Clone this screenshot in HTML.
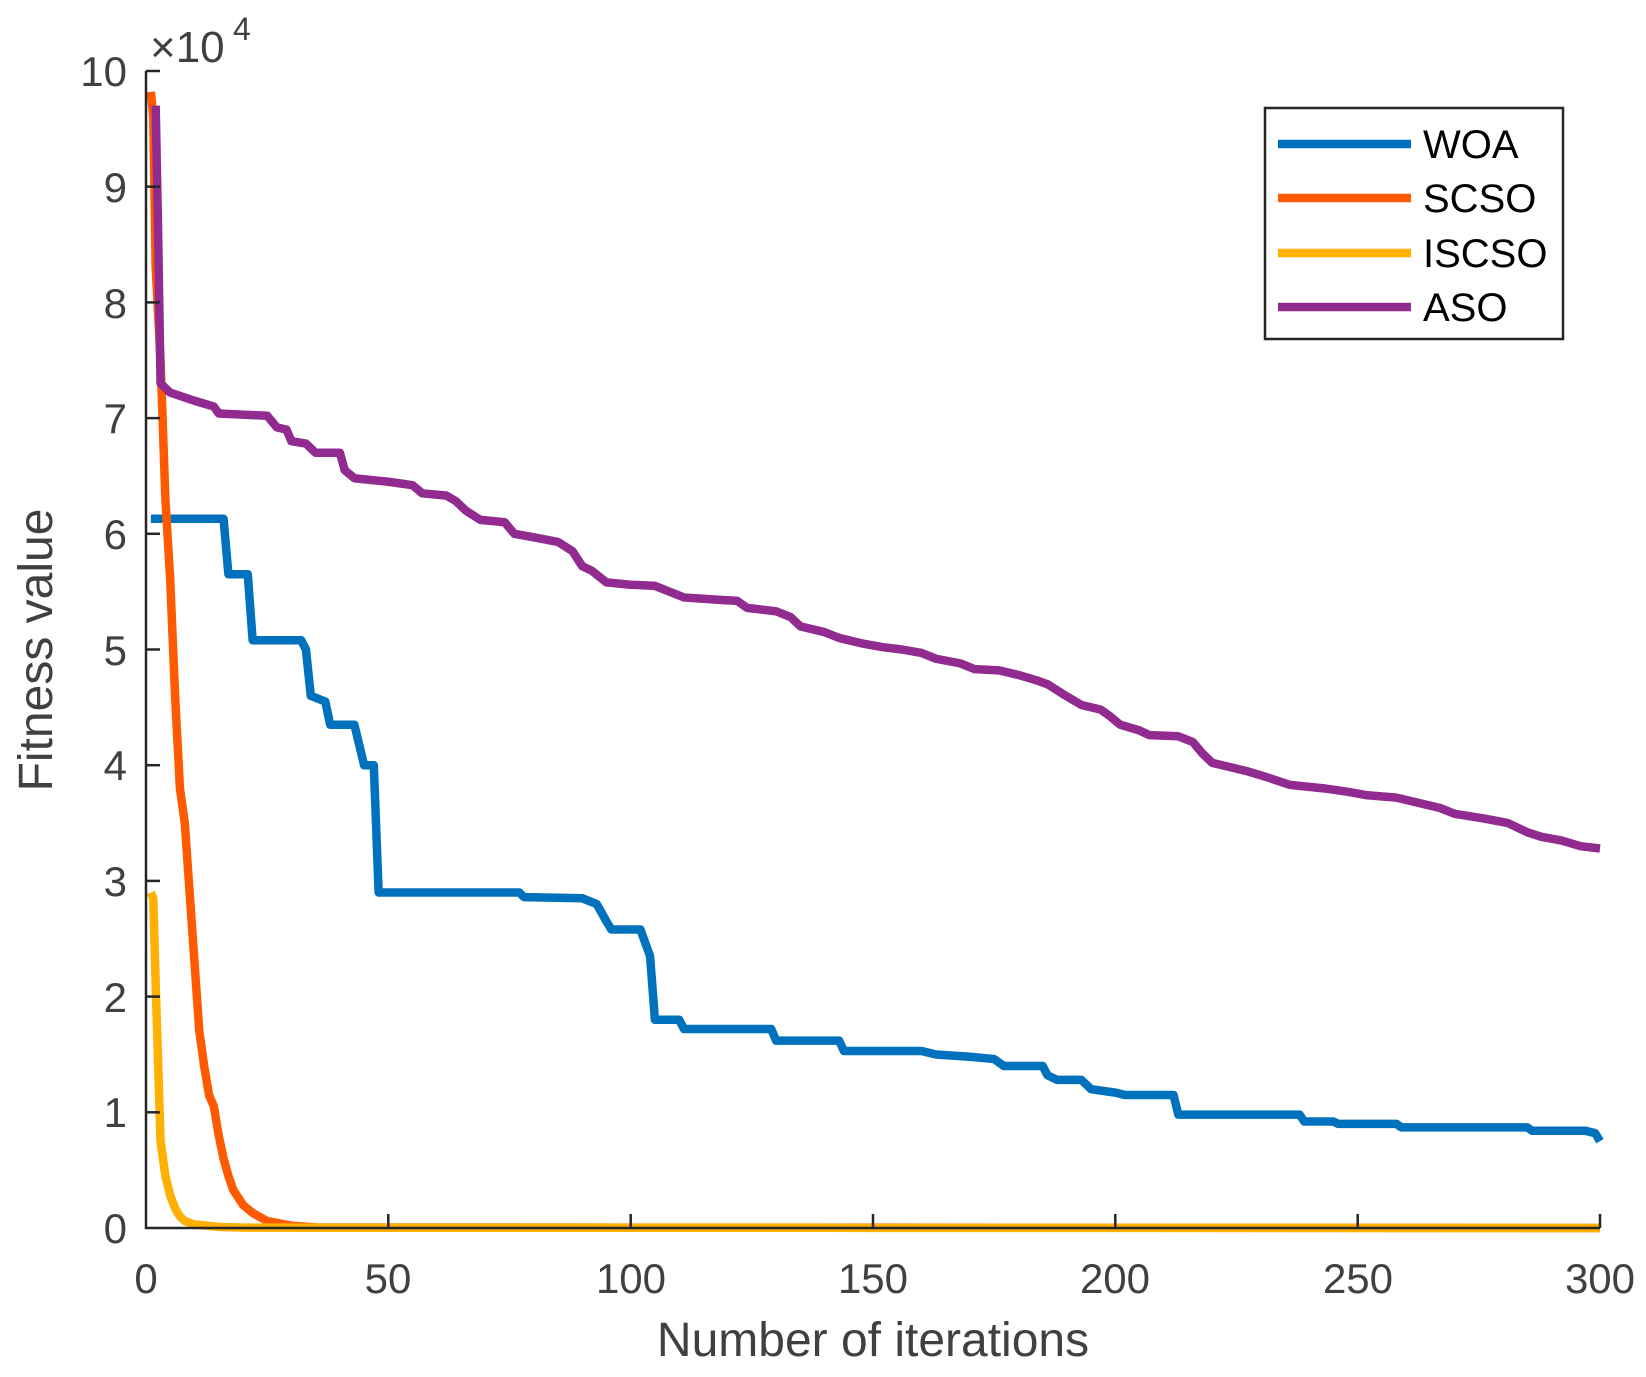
<!DOCTYPE html>
<html><head><style>body{margin:0;background:#fff}svg{display:block}text{font-family:"Liberation Sans",Arial,sans-serif;fill:#404040}</style></head><body>
<svg width="1646" height="1377" viewBox="0 0 1646 1377">
<g fill="none" stroke-linejoin="round" transform="translate(146,1228) scale(4.8467,-115.7)">
<polyline vector-effect="non-scaling-stroke" stroke="#0072BD" stroke-width="8.5" points="1,6.13 16,6.13 17,5.65 21,5.65 22,5.08 32,5.08 33,5.0 34,4.6 37,4.55 38,4.35 43,4.35 45,4.0 47,4.0 48,2.9 77,2.9 78,2.86 90,2.85 93,2.8 95,2.65 96,2.58 102,2.58 104,2.35 105,1.8 110,1.8 111,1.72 129,1.72 130,1.62 143,1.62 144,1.53 160,1.53 163,1.5 170,1.48 175,1.46 177,1.4 185,1.4 186,1.32 188,1.28 193,1.28 195,1.2 200,1.17 202,1.15 212,1.15 213,0.98 238,0.98 239,0.92 245,0.92 246,0.9 258,0.9 259,0.87 285,0.87 286,0.84 297,0.84 299,0.82 300,0.75"/>
<polyline vector-effect="non-scaling-stroke" stroke="#FF5A00" stroke-width="8.5" points="1,9.82 1.5,9.6 2,8.3 3,7.5 4,6.3 5,5.6 6,4.6 7,3.8 8,3.5 9,2.9 10,2.3 11,1.7 12,1.4 13,1.15 14,1.05 15,0.8 16,0.6 17,0.45 18,0.33 20,0.2 22,0.13 25,0.06 30,0.02 35,0.005 300,0"/>
<polyline vector-effect="non-scaling-stroke" stroke="#FFB000" stroke-width="8.5" points="1,2.9 1.5,2.85 2,2.1 3,0.75 4,0.45 5,0.28 6,0.17 7,0.1 8,0.06 10,0.03 15,0.01 20,0.003 300,0"/>
<polyline vector-effect="non-scaling-stroke" stroke="#922B90" stroke-width="8.5" points="2,9.7 2.5,8.6 3,7.3 5,7.22 10,7.15 14,7.1 15,7.04 25,7.02 27,6.92 29,6.9 30,6.8 33,6.78 35,6.7 40,6.7 41,6.55 43,6.48 50,6.45 55,6.42 57,6.35 62,6.33 64,6.28 66,6.2 69,6.12 74,6.1 76,6.0 80,5.97 85,5.93 88,5.85 90,5.72 92,5.68 95,5.58 100,5.56 105,5.55 108,5.5 111,5.45 118,5.43 122,5.42 124,5.36 130,5.33 133,5.28 135,5.2 140,5.15 143,5.1 148,5.05 152,5.02 156,5.0 160,4.97 163,4.92 168,4.88 171,4.83 176,4.82 180,4.78 184,4.73 186,4.7 189,4.62 193,4.52 197,4.48 199,4.42 201,4.35 205,4.3 207,4.26 213,4.25 216,4.2 218,4.1 220,4.02 224,3.98 227,3.95 231,3.9 236,3.83 243,3.8 248,3.77 252,3.74 258,3.72 262,3.68 267,3.63 270,3.58 276,3.54 281,3.5 285,3.42 288,3.38 292,3.35 296,3.3 300,3.28"/>
</g>
<g stroke="#262626" stroke-width="2.5" fill="none">
<polyline points="146,71 146,1228 1600,1228"/>
</g>
<g stroke="#262626" stroke-width="2.5">
<line x1="146" y1="71" x2="160" y2="71"/><line x1="146" y1="186.7" x2="160" y2="186.7"/><line x1="146" y1="302.4" x2="160" y2="302.4"/><line x1="146" y1="418.1" x2="160" y2="418.1"/><line x1="146" y1="533.8" x2="160" y2="533.8"/><line x1="146" y1="649.5" x2="160" y2="649.5"/><line x1="146" y1="765.2" x2="160" y2="765.2"/><line x1="146" y1="880.9" x2="160" y2="880.9"/><line x1="146" y1="996.6" x2="160" y2="996.6"/><line x1="146" y1="1112.3" x2="160" y2="1112.3"/>
<line x1="388.3" y1="1228" x2="388.3" y2="1214"/><line x1="630.7" y1="1228" x2="630.7" y2="1214"/><line x1="873" y1="1228" x2="873" y2="1214"/><line x1="1115.3" y1="1228" x2="1115.3" y2="1214"/><line x1="1357.7" y1="1228" x2="1357.7" y2="1214"/><line x1="1600" y1="1228" x2="1600" y2="1214"/>
</g>
<g font-size="42" text-anchor="end">
<text x="127" y="86">10</text><text x="127" y="202">9</text><text x="127" y="318">8</text><text x="127" y="433">7</text><text x="127" y="549">6</text><text x="127" y="665">5</text><text x="127" y="780">4</text><text x="127" y="896">3</text><text x="127" y="1012">2</text><text x="127" y="1127">1</text><text x="127" y="1243">0</text>
</g>
<g font-size="42" text-anchor="middle">
<text x="146" y="1293">0</text><text x="388" y="1293">50</text><text x="631" y="1293">100</text><text x="873" y="1293">150</text><text x="1115" y="1293">200</text><text x="1358" y="1293">250</text><text x="1600" y="1293">300</text>
<text x="873" y="1356" font-size="48">Number of iterations</text>
<text transform="translate(52,650) rotate(-90)" font-size="48">Fitness value</text>
</g>
<text x="150" y="62" font-size="44">×10</text><text x="233" y="40" font-size="32">4</text>
<rect x="1265" y="108" width="298" height="231" fill="#fff" stroke="#262626" stroke-width="2.5"/>
<g stroke-width="8.5">
<line x1="1278" y1="144" x2="1411" y2="144" stroke="#0072BD"/>
<line x1="1278" y1="198" x2="1411" y2="198" stroke="#FF5A00"/>
<line x1="1278" y1="253" x2="1411" y2="253" stroke="#FFB000"/>
<line x1="1278" y1="307" x2="1411" y2="307" stroke="#922B90"/>
</g>
<g font-size="40">
<text x="1423" y="158" style="fill:#000">WOA</text><text x="1423" y="212" style="fill:#000">SCSO</text><text x="1423" y="267" style="fill:#000">ISCSO</text><text x="1423" y="321" style="fill:#000">ASO</text>
</g>
</svg>
</body></html>
